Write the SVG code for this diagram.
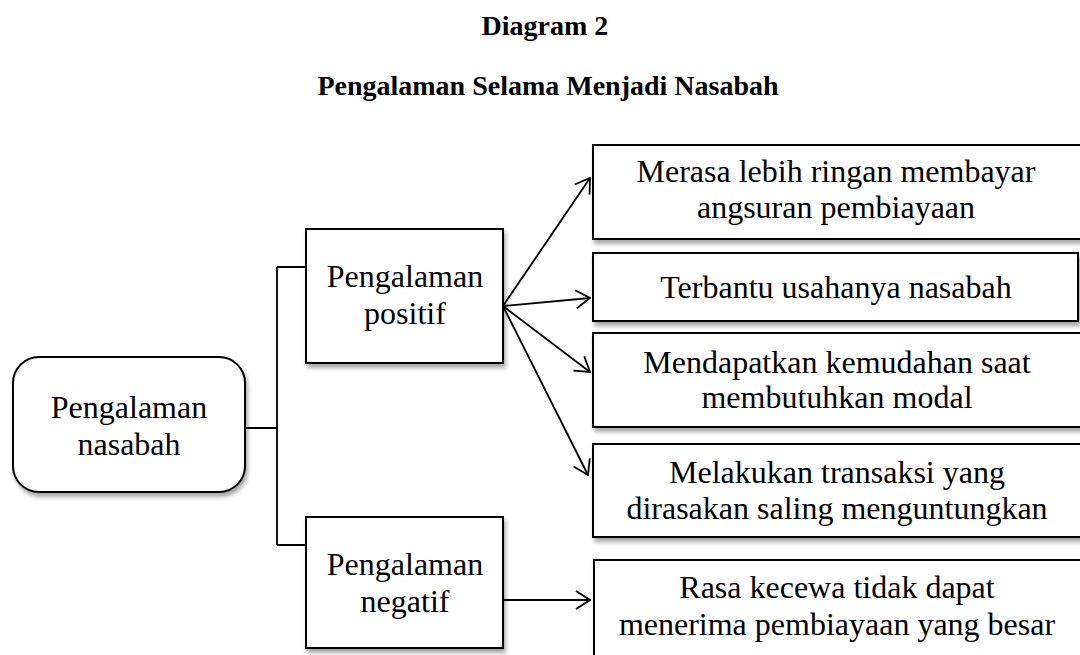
<svg xmlns="http://www.w3.org/2000/svg" width="1080" height="655" viewBox="0 0 1080 655">
<defs>
<style>
.title{font-family:"Liberation Serif","Times New Roman",serif;font-weight:bold;font-size:28px;fill:#000;text-anchor:middle}
.lbl{font-family:"Liberation Serif","Times New Roman",serif;font-size:32px;fill:#000;text-anchor:middle}
.box{fill:#fff;stroke:#000;stroke-width:2;filter:url(#sh)}
.con{fill:none;stroke:#000;stroke-width:1.8}
</style>
<filter id="sh" x="-10%" y="-10%" width="130%" height="140%">
<feGaussianBlur in="SourceAlpha" stdDeviation="2"/>
<feOffset dx="2" dy="4" result="b"/>
<feComponentTransfer><feFuncA type="linear" slope="0.35"/></feComponentTransfer>
<feMerge><feMergeNode/><feMergeNode in="SourceGraphic"/></feMerge>
</filter>
<marker id="arr" viewBox="0 0 16 20" refX="15" refY="10" markerWidth="16" markerHeight="20" markerUnits="userSpaceOnUse" orient="auto">
<path d="M1,1 L15,10 L1,19" fill="none" stroke="#000" stroke-width="1.8"/>
</marker>
</defs>
<rect width="1080" height="655" fill="#fff"/>
<text class="title" x="545" y="35">Diagram 2</text>
<text class="title" x="548" y="95">Pengalaman Selama Menjadi Nasabah</text>

<g id="connectors">
<path class="con" d="M245,428 H277 M277,267 V545 M277,267 H306 M277,545 H306"/>
<line class="con" x1="503" y1="306" x2="590" y2="178" marker-end="url(#arr)"/>
<line class="con" x1="503" y1="306" x2="590" y2="298" marker-end="url(#arr)"/>
<line class="con" x1="503" y1="306" x2="590" y2="372" marker-end="url(#arr)"/>
<line class="con" x1="503" y1="306" x2="588" y2="475" marker-end="url(#arr)"/>
<line class="con" x1="503" y1="600" x2="590" y2="600" marker-end="url(#arr)"/>
</g>

<g id="node-nasabah">
<rect class="box" x="13" y="357" width="232" height="135" rx="26"/>
<text class="lbl" x="129" y="418">Pengalaman</text>
<text class="lbl" x="129" y="455">nasabah</text>
</g>

<g id="node-positif">
<rect class="box" x="306" y="229" width="197" height="134"/>
<text class="lbl" x="405" y="287">Pengalaman</text>
<text class="lbl" x="405" y="324">positif</text>
</g>

<g id="node-negatif">
<rect class="box" x="306" y="517" width="197" height="131"/>
<text class="lbl" x="405" y="575">Pengalaman</text>
<text class="lbl" x="405" y="612">negatif</text>
</g>

<g id="node-p1">
<rect class="box" x="593" y="145" width="500" height="94"/>
<text class="lbl" x="836" y="182">Merasa lebih ringan membayar</text>
<text class="lbl" x="836" y="218">angsuran pembiayaan</text>
</g>

<g id="node-p2">
<rect class="box" x="593" y="253" width="485" height="68"/>
<text class="lbl" x="836" y="298">Terbantu usahanya nasabah</text>
</g>

<g id="node-p3">
<rect class="box" x="593" y="333" width="500" height="94"/>
<text class="lbl" x="837" y="373">Mendapatkan kemudahan saat</text>
<text class="lbl" x="837" y="408">membutuhkan modal</text>
</g>

<g id="node-p4">
<rect class="box" x="593" y="444" width="500" height="93"/>
<text class="lbl" x="837" y="483">Melakukan transaksi yang</text>
<text class="lbl" x="837" y="519">dirasakan saling menguntungkan</text>
</g>

<g id="node-n1">
<rect class="box" x="594" y="560" width="500" height="110"/>
<text class="lbl" x="837" y="598">Rasa kecewa tidak dapat</text>
<text class="lbl" x="837" y="635">menerima pembiayaan yang besar</text>
</g>
</svg>
